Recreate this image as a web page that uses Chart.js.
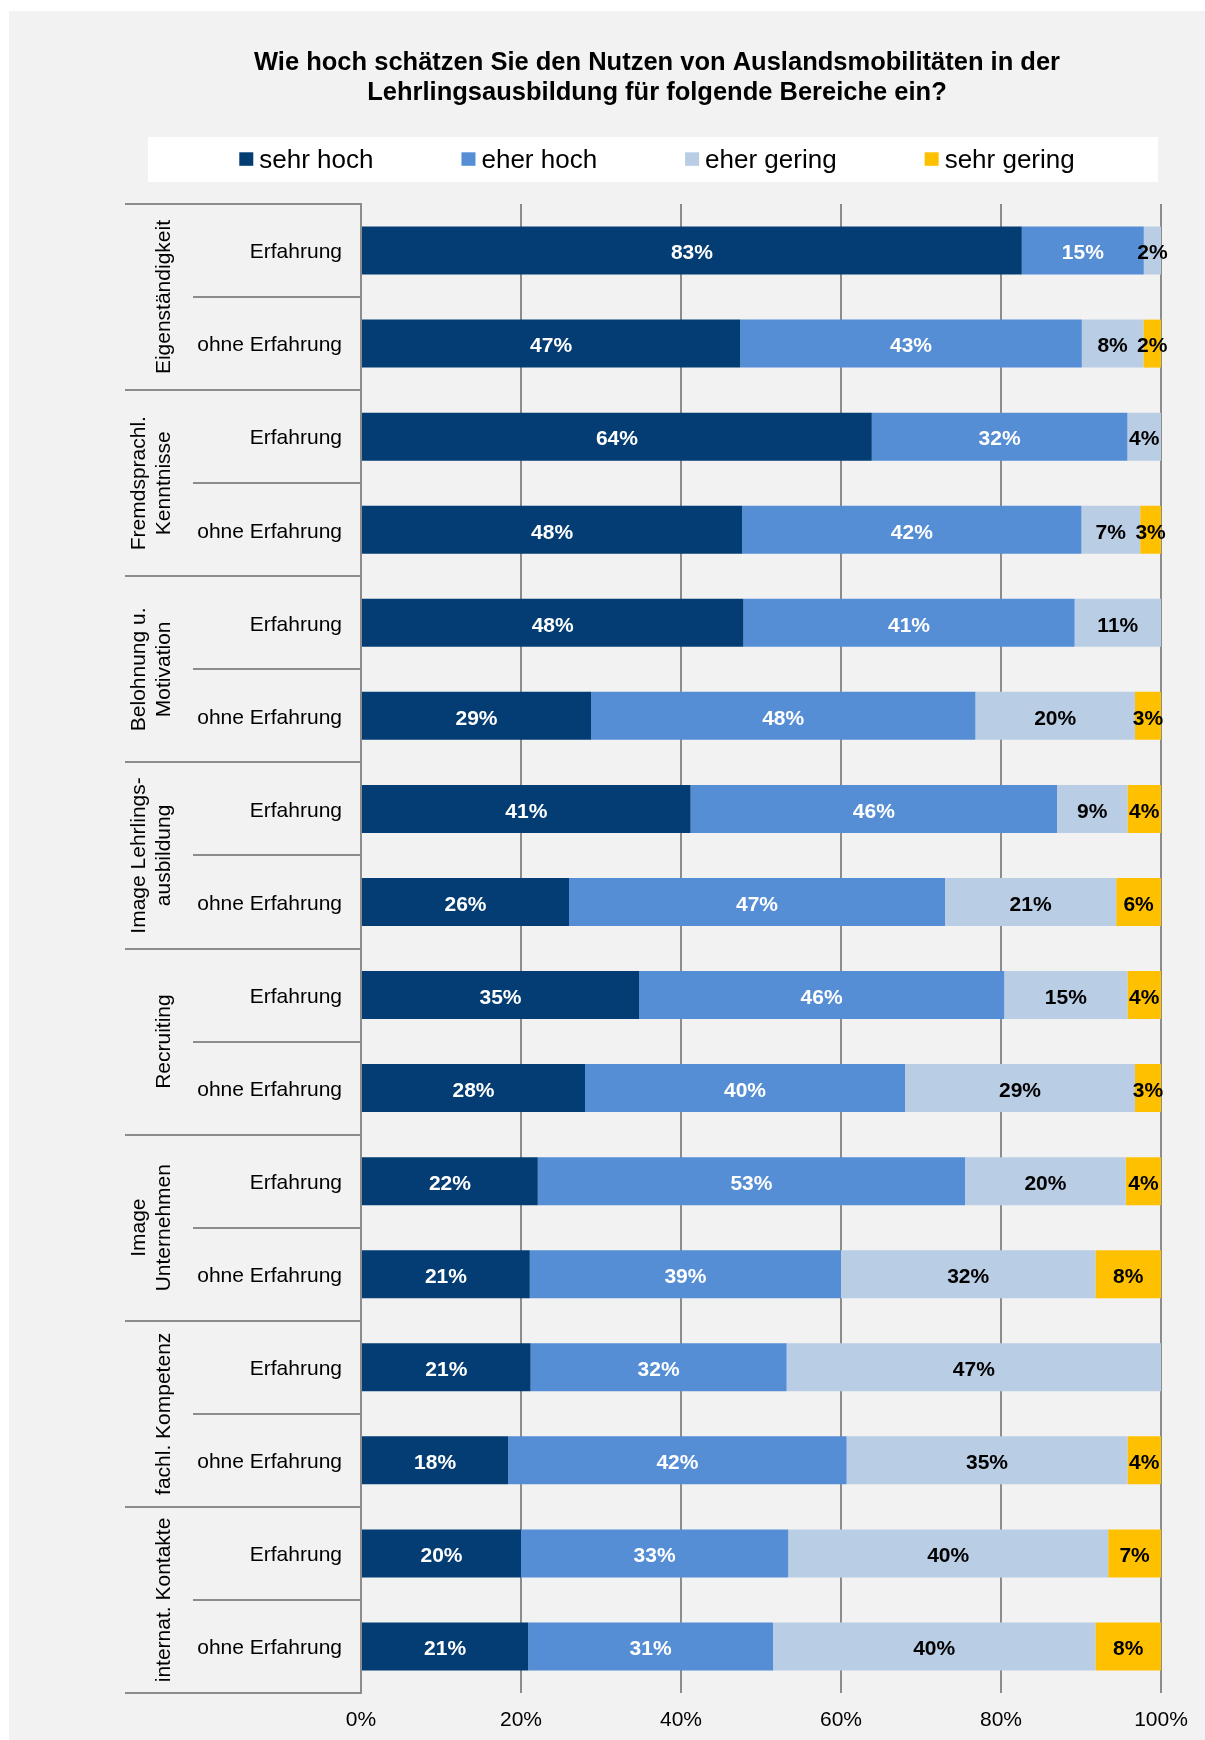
<!DOCTYPE html>
<html lang="de">
<head>
<meta charset="utf-8">
<title>Nutzen von Auslandsmobilitäten in der Lehrlingsausbildung</title>
<script src="https://cdn.jsdelivr.net/npm/chart.js@4.4.1/dist/chart.umd.min.js"></script>
<style>
    html, body { margin: 0; padding: 0; background: #ffffff; }
    #chart-container { position: absolute; left: 9px; top: 11px; width: 1196px; height: 1729px; background: #f2f2f2; }
    canvas { display: block; }
</style>
</head>
<body>
<div id="chart-container"><canvas id="nutzenChart" width="1196" height="1729"></canvas></div>
<script>
const titleLines = [
    'Wie hoch schätzen Sie den Nutzen von Auslandsmobilitäten in der',
    'Lehrlingsausbildung für folgende Bereiche ein?'
];
const rowLabels = [
    'Erfahrung', 'ohne Erfahrung', 'Erfahrung', 'ohne Erfahrung',
    'Erfahrung', 'ohne Erfahrung', 'Erfahrung', 'ohne Erfahrung',
    'Erfahrung', 'ohne Erfahrung', 'Erfahrung', 'ohne Erfahrung',
    'Erfahrung', 'ohne Erfahrung', 'Erfahrung', 'ohne Erfahrung'
];
const groupLabels = [
    ['Eigenständigkeit'],
    ['Fremdsprachl.', 'Kenntnisse'],
    ['Belohnung u.', 'Motivation'],
    ['Image Lehrlings-', 'ausbildung'],
    ['Recruiting'],
    ['Image', 'Unternehmen'],
    ['fachl. Kompetenz'],
    ['internat. Kontakte']
];
const seriesNames = ['sehr hoch', 'eher hoch', 'eher gering', 'sehr gering'];
const sehrHoch   = [82.6, 47.4, 63.85, 47.65, 47.8, 28.75, 41.2, 26.0, 34.75, 28.0, 22.1, 21.1, 21.2, 18.4, 20.0, 20.9];
const eherHoch   = [15.25, 42.7, 31.95, 42.4, 41.4, 48.05, 45.8, 47.0, 45.65, 40.0, 53.4, 38.9, 32.0, 42.3, 33.4, 30.6];
const eherGering = [2.15, 7.7, 4.2, 7.35, 10.8, 19.95, 8.8, 21.4, 15.4, 28.75, 20.1, 31.8, 46.8, 35.1, 40.0, 40.3];
const sehrGering = [0, 2.2, 0, 2.6, 0, 3.25, 4.2, 5.6, 4.2, 3.25, 4.4, 8.2, 0, 4.2, 6.6, 8.2];
const xTickLabels = ['0%', '20%', '40%', '60%', '80%', '100%'];

const seriesColors = ['#033d73', '#558ed5', '#b9cde5', '#ffc000'];
const labelColors = ['#ffffff', '#ffffff', '#000000', '#000000'];
const fontFamily = '"Liberation Sans", Arial, Helvetica, sans-serif';
const lineGray = '#8c8c8c';

document.addEventListener('DOMContentLoaded', function() {

    // Titel und Legende oben
    const headerPlugin = {
        id: 'header',
        afterDraw(chart) {
            const ctx = chart.ctx;
            const cx = 648;
            ctx.save();
            ctx.fillStyle = '#000000';
            ctx.textAlign = 'center';
            ctx.textBaseline = 'alphabetic';
            ctx.font = 'bold 25.5px ' + fontFamily;
            titleLines.forEach((line, i) => ctx.fillText(line, cx, 59 + i * 30));

            // Legende
            ctx.fillStyle = '#ffffff';
            ctx.fillRect(139, 126, 1010, 45);
            ctx.font = '26px ' + fontFamily;
            ctx.textAlign = 'left';
            const widths = seriesNames.map(n => ctx.measureText(n).width);
            const gap = 88;
            const total = widths.reduce((a, w) => a + 20 + w, 0) + gap * (seriesNames.length - 1);
            let x = cx - total / 2;
            seriesNames.forEach((name, i) => {
                ctx.fillStyle = seriesColors[i];
                ctx.fillRect(x, 141.3, 14, 13.5);
                ctx.fillStyle = '#000000';
                ctx.fillText(name, x + 20, 157);
                x += 20 + widths[i] + gap;
            });
            ctx.restore();
        }
    };

    // Trennlinien, Zeilen- und Gruppenbeschriftung links
    const groupPlugin = {
        id: 'groups',
        afterDraw(chart) {
            const ctx = chart.ctx;
            const yScale = chart.scales.y;
            const left = chart.chartArea.left;
            const rowH = yScale.getPixelForValue(1) - yScale.getPixelForValue(0);
            ctx.save();
            ctx.strokeStyle = lineGray;
            ctx.lineWidth = 2;
            for (let i = 0; i <= rowLabels.length; i++) {
                const y = Math.round(yScale.getPixelForValue(0) - rowH / 2 + i * rowH);
                const x0 = i % 2 === 0 ? 116 : 184;
                ctx.beginPath();
                ctx.moveTo(x0, y);
                ctx.lineTo(left, y);
                ctx.stroke();
            }
            ctx.fillStyle = '#000000';
            ctx.font = '21px ' + fontFamily;
            ctx.textBaseline = 'middle';

            ctx.textAlign = 'right';
            rowLabels.forEach((label, j) => {
                ctx.fillText(label, left - 19, yScale.getPixelForValue(j) + 2);
            });

            ctx.textAlign = 'center';
            groupLabels.forEach((lines, g) => {
                const yc = (yScale.getPixelForValue(2 * g) + yScale.getPixelForValue(2 * g + 1)) / 2;
                lines.forEach((line, k) => {
                    const xk = 155 - (lines.length - 1 - k) * 25;
                    ctx.save();
                    ctx.translate(xk, yc);
                    ctx.rotate(-Math.PI / 2);
                    ctx.fillText(line, 0, 0);
                    ctx.restore();
                });
            });
            ctx.restore();
        }
    };

    // Prozentwerte in den Balken
    const valueLabelPlugin = {
        id: 'valueLabels',
        afterDatasetsDraw(chart) {
            const ctx = chart.ctx;
            ctx.save();
            ctx.font = 'bold 21px ' + fontFamily;
            ctx.textAlign = 'center';
            ctx.textBaseline = 'middle';
            chart.data.datasets.forEach((ds, i) => {
                const meta = chart.getDatasetMeta(i);
                ctx.fillStyle = labelColors[i];
                meta.data.forEach((bar, j) => {
                    const v = ds.data[j];
                    if (!v) return;
                    ctx.fillText(Math.round(v) + '%', (bar.x + bar.base) / 2, bar.y + 3);
                });
            });
            ctx.restore();
        }
    };

    const datasets = [sehrHoch, eherHoch, eherGering, sehrGering].map((data, i) => ({
        label: seriesNames[i],
        data: data,
        backgroundColor: seriesColors[i],
        borderWidth: 0,
        barPercentage: 0.516,
        categoryPercentage: 1
    }));

    const ctx = document.getElementById('nutzenChart').getContext('2d');
    new Chart(ctx, {
        type: 'bar',
        data: { labels: rowLabels, datasets: datasets },
        options: {
            indexAxis: 'y',
            responsive: false,
            animation: false,
            devicePixelRatio: 1,
            layout: { padding: { top: 193, right: 44, left: 0, bottom: 0 } },
            plugins: {
                legend: { display: false },
                title: { display: false },
                tooltip: { enabled: false }
            },
            scales: {
                x: {
                    stacked: true,
                    min: 0,
                    max: 100,
                    ticks: {
                        stepSize: 20,
                        color: '#000000',
                        font: { size: 21, family: fontFamily },
                        padding: 15,
                        callback: (v, i) => xTickLabels[i]
                    },
                    grid: { color: lineGray, lineWidth: 2, drawTicks: false },
                    border: { display: false },
                    afterFit: scale => { scale.height = 47; }
                },
                y: {
                    stacked: true,
                    ticks: { display: false },
                    grid: { display: false, drawTicks: false },
                    border: { display: true, color: lineGray, width: 2 },
                    afterFit: scale => { scale.width = 352; }
                }
            }
        },
        plugins: [headerPlugin, groupPlugin, valueLabelPlugin]
    });
});
</script>
</body>
</html>
